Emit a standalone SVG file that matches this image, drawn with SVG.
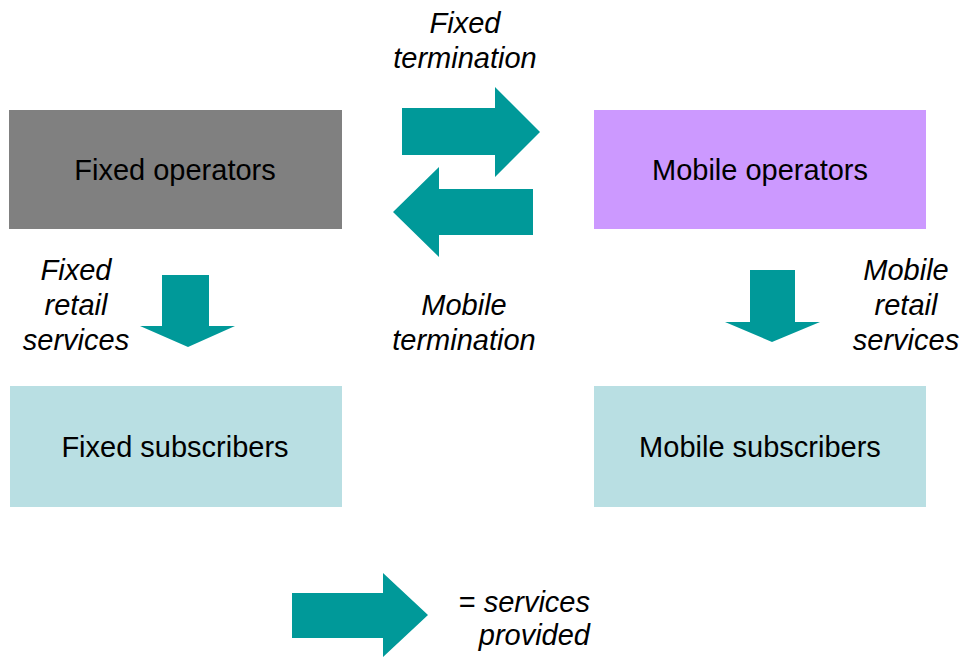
<svg xmlns="http://www.w3.org/2000/svg" width="961" height="657" viewBox="0 0 961 657">
  <style>
    .box-label { font-family: "Liberation Sans", Arial, sans-serif; font-size: 29px; fill: #000; text-anchor: middle; }
    .flow-label { font-family: "Liberation Sans", Arial, sans-serif; font-size: 29px; font-style: italic; fill: #000; text-anchor: middle; }
    .arrow { fill: #009999; }
  </style>
  <rect width="961" height="657" fill="#ffffff"/>

  <!-- Operator and subscriber boxes -->
  <g id="fixed-operators">
    <rect x="9" y="110" width="333" height="119" fill="#808080"/>
    <text class="box-label" x="175" y="180">Fixed operators</text>
  </g>
  <g id="mobile-operators">
    <rect x="594" y="110" width="332" height="119" fill="#CC99FF"/>
    <text class="box-label" x="760" y="180">Mobile operators</text>
  </g>
  <g id="fixed-subscribers">
    <rect x="10" y="386" width="332" height="121" fill="#B9DFE3"/>
    <text class="box-label" x="175" y="457">Fixed subscribers</text>
  </g>
  <g id="mobile-subscribers">
    <rect x="594" y="386" width="332" height="121" fill="#B9DFE3"/>
    <text class="box-label" x="760" y="457">Mobile subscribers</text>
  </g>

  <!-- Service flows -->
  <g id="connectors">
    <!-- fixed termination: fixed -> mobile -->
    <polygon class="arrow" points="402,108 495,108 495,87 540,132 495,177 495,155 402,155"/>
    <!-- mobile termination: mobile -> fixed -->
    <polygon class="arrow" points="533,189 439,189 439,167 393,212 439,257 439,235 533,235"/>
    <!-- fixed retail services -->
    <polygon class="arrow" points="162,275 209,275 209,326 235,326 188,347 140,326 162,326"/>
    <!-- mobile retail services -->
    <polygon class="arrow" points="750,270 795,270 795,322 820,322 772,342 725,322 750,322"/>
  </g>

  <g id="flow-labels">
    <text class="flow-label" x="465" y="33">Fixed</text>
    <text class="flow-label" x="465" y="68">termination</text>
    <text class="flow-label" x="464" y="315">Mobile</text>
    <text class="flow-label" x="464" y="350">termination</text>
    <text class="flow-label" x="76" y="280">Fixed</text>
    <text class="flow-label" x="76" y="315">retail</text>
    <text class="flow-label" x="76" y="350">services</text>
    <text class="flow-label" x="906" y="280">Mobile</text>
    <text class="flow-label" x="906" y="315">retail</text>
    <text class="flow-label" x="906" y="350">services</text>
  </g>

  <!-- Legend -->
  <g id="legend">
    <polygon class="arrow" points="292,593 383,593 383,573 428,615 383,657 383,638 292,638"/>
    <text class="flow-label" x="590" y="612" style="text-anchor:end"><tspan font-style="normal">=</tspan> services</text>
    <text class="flow-label" x="590" y="645" style="text-anchor:end">provided</text>
  </g>
</svg>
